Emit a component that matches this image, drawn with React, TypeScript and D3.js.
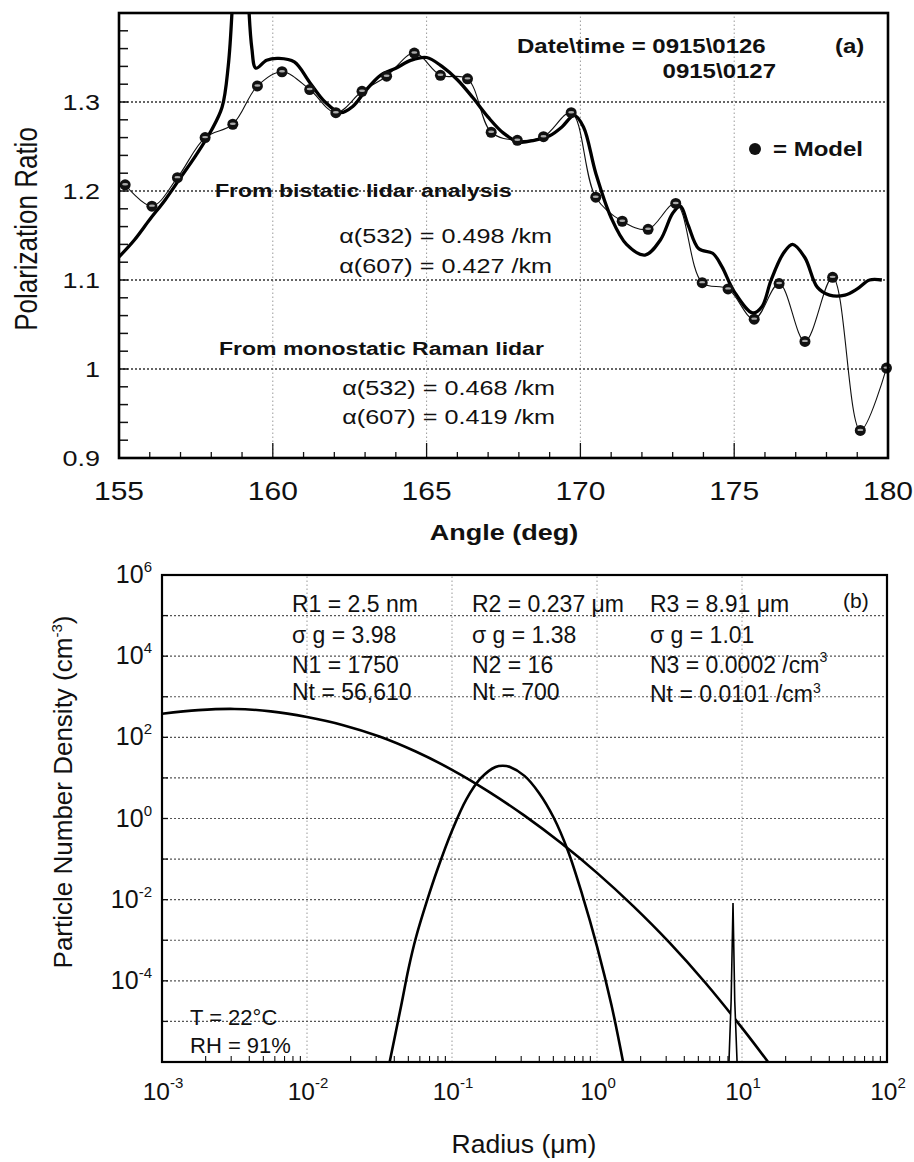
import React from "react";
import * as d3 from "d3";

// ---------- Panel (a) data ----------
const modelAngle = [155.2, 156.07, 156.9, 157.8, 158.7, 159.5, 160.3, 161.2, 162.05, 162.9, 163.7, 164.6, 165.45, 166.33, 167.1, 167.95, 168.8, 169.7, 170.5, 171.36, 172.2, 173.1, 173.96, 174.8, 175.65, 176.46, 177.3, 178.2, 179.1, 179.95];
const modelRatio = [1.207, 1.183, 1.215, 1.26, 1.275, 1.318, 1.334, 1.314, 1.288, 1.312, 1.329, 1.355, 1.33, 1.326, 1.266, 1.257, 1.261, 1.288, 1.193, 1.166, 1.157, 1.186, 1.097, 1.09, 1.056, 1.096, 1.031, 1.103, 0.931, 1.001];

const measAngle = [155.0, 155.5, 156.0, 156.5, 157.0, 157.5, 158.0, 158.35, 158.55, 158.7, 158.85, 159.05, 159.2, 159.32, 159.45, 159.8, 160.2, 160.7, 161.2, 161.7, 162.2, 162.6, 163.0, 163.5, 164.0, 164.5, 165.0, 165.5, 166.0, 166.5, 167.0, 167.5, 168.0, 168.5, 169.0, 169.4, 169.8, 170.1, 170.5, 171.0, 171.5, 172.1, 172.6, 173.0, 173.25, 173.5, 173.85, 174.3, 174.6, 175.0, 175.6, 175.9, 176.2, 176.6, 176.9, 177.3, 177.7, 178.1, 178.6, 179.0, 179.4, 179.8];
const measRatio = [1.126, 1.145, 1.168, 1.19, 1.215, 1.24, 1.268, 1.294, 1.34, 1.42, 1.6, 1.6, 1.42, 1.36, 1.338, 1.347, 1.349, 1.345, 1.322, 1.3, 1.288, 1.295, 1.312, 1.33, 1.338, 1.347, 1.35, 1.34, 1.325, 1.305, 1.283, 1.265, 1.255, 1.257, 1.262, 1.272, 1.285, 1.272, 1.22, 1.17, 1.14, 1.128, 1.145, 1.175, 1.183, 1.162, 1.135, 1.13, 1.115, 1.087, 1.063, 1.07, 1.1, 1.13, 1.14, 1.125, 1.092, 1.083, 1.083, 1.09, 1.1, 1.1];

const topXTicks = [155, 160, 165, 170, 175, 180];
const topYTicks = [0.9, 1, 1.1, 1.2, 1.3];

// ---------- Panel (b) data (log10 radius µm, log10 density cm^-3) ----------
const mode1LogR = [-3.0, -2.75, -2.5, -2.25, -2.0, -1.75, -1.5, -1.25, -1.0, -0.75, -0.5, -0.25, 0.0, 0.25, 0.5, 0.75, 1.0, 1.18];
const mode1LogN = [2.58, 2.67, 2.7, 2.64, 2.5, 2.3, 2.02, 1.65, 1.2, 0.67, 0.07, -0.6, -1.34, -2.16, -3.06, -4.06, -5.16, -6.0];

const mode2LogR = [-1.43, -1.35, -1.3, -1.25, -1.17, -1.1, -1.0, -0.9, -0.8, -0.7, -0.65, -0.6, -0.5, -0.4, -0.3, -0.2, -0.1, 0.0, 0.1, 0.18];
const mode2LogN = [-6.0, -4.6, -3.7, -2.95, -2.0, -1.25, -0.3, 0.48, 1.0, 1.27, 1.3, 1.27, 1.05, 0.63, 0.03, -0.8, -1.9, -3.15, -4.6, -6.0];

const mode3LogR = [0.91, 0.925, 0.938, 0.95, 0.966];
const mode3LogN = [-6.0, -4.5, -2.08, -4.5, -6.0];

const botXExp = [-3, -2, -1, 0, 1, 2];
const botYExp = [-4, -2, 0, 2, 4, 6];

const FONT = "'Liberation Sans', Arial, sans-serif";
const SX_TOP = 1.2;

function T(props: any) {
  const { x, y, sx = 1, anchor = "start", size, weight = "normal", rotate = false, children } = props;
  return (
    <text
      transform={`translate(${x},${y}) scale(${sx},1)${rotate ? " rotate(-90)" : ""}`}
      textAnchor={anchor}
      fontSize={size}
      fontWeight={weight}
      fontFamily={FONT}
      fill="#111"
    >
      {children}
    </text>
  );
}

export default function App() {
  // Panel (a) scales
  const xA = d3.scaleLinear().domain([155, 180]).range([119, 888]);
  const yA = d3.scaleLinear().domain([0.9, 1.4]).range([458, 13]);
  // Panel (b) scales
  const xR = d3.scaleLog().domain([1e-3, 1e2]).range([162, 887]);
  const yN = d3.scaleLog().domain([1e-6, 1e6]).range([1062, 575]);

  const measLine = d3
    .line<number>()
    .x((_, i) => xA(measAngle[i]))
    .y((d) => yA(d))
    .curve(d3.curveCatmullRom.alpha(0.5));
  const modelLine = d3
    .line<number>()
    .x((_, i) => xA(modelAngle[i]))
    .y((d) => yA(d))
    .curve(d3.curveCatmullRom.alpha(0.5));

  const logLine = (lr: number[]) =>
    d3
      .line<number>()
      .x((_, i) => xR(Math.pow(10, lr[i])))
      .y((d) => yN(Math.pow(10, d)))
      .curve(d3.curveCatmullRom.alpha(0.5));

  const [ax0, ax1] = xA.range();
  const [ay0, ay1] = [yA(0.9), yA(1.4)];
  const [bx0, bx1] = xR.range();
  const [by0, by1] = [yN(1e-6), yN(1e6)];

  const yMinor = d3.range(0.92, 1.399, 0.02);
  const xMinor = d3.range(156, 180, 1);
  const bxMinor: number[] = [];
  for (let e = -3; e < 2; e++) for (let m = 2; m <= 9; m++) bxMinor.push(m * Math.pow(10, e));
  const byDec = d3.range(-5, 6);

  const fmt = d3.format("~g");

  return (
    <svg
      width={914}
      height={1162}
      style={{ position: "absolute", left: 0, top: 0, display: "block", background: "#fff" }}
    >
      <defs>
        <clipPath id="clipA">
          <rect x={ax0} y={ay1} width={ax1 - ax0} height={ay0 - ay1} />
        </clipPath>
        <clipPath id="clipB">
          <rect x={bx0} y={by1} width={bx1 - bx0} height={by0 - by1} />
        </clipPath>
      </defs>

      {/* ===== Panel (a) ===== */}
      {topXTicks.slice(1, -1).map((t) => (
        <line key={"gx" + t} x1={xA(t)} x2={xA(t)} y1={ay0} y2={ay1} stroke="#9a9a9a" strokeWidth={1} strokeDasharray="1.5,2.5" />
      ))}
      {topYTicks.slice(1).map((t) => (
        <line key={"gy" + t} x1={ax0} x2={ax1} y1={yA(t)} y2={yA(t)} stroke="#333" strokeWidth={1.3} strokeDasharray="2,2" />
      ))}
      {yMinor.map((t) => (
        <line key={"ym" + t} x1={ax0} x2={ax0 + 9} y1={yA(t)} y2={yA(t)} stroke="#111" strokeWidth={1.5} />
      ))}
      {xMinor.map((t) => (
        <line key={"xm" + t} x1={xA(t)} x2={xA(t)} y1={ay0} y2={ay0 - (t % 5 === 0 ? 15 : 6)} stroke="#111" strokeWidth={1.3} />
      ))}

      <g clipPath="url(#clipA)">
        <path d={modelLine(modelRatio) || ""} fill="none" stroke="#111" strokeWidth={1.1} />
        <path d={measLine(measRatio) || ""} fill="none" stroke="#000" strokeWidth={3.3} strokeLinejoin="round" />
      </g>
      {modelRatio.map((v, i) => (
        <g key={"dot" + i}>
          <circle cx={xA(modelAngle[i])} cy={yA(v)} r={5.5} fill="#111" />
          <ellipse cx={xA(modelAngle[i])} cy={yA(v) - 0.5} rx={3} ry={1.2} fill="#aaa" />
        </g>
      ))}
      <rect x={ax0} y={ay1} width={ax1 - ax0} height={ay0 - ay1} fill="none" stroke="#000" strokeWidth={2.6} />

      {topYTicks.map((t) => (
        <T key={"yl" + t} x={100} y={yA(t) + 8} sx={SX_TOP} anchor="end" size={22.5}>
          {fmt(t)}
        </T>
      ))}
      {topXTicks.map((t) => (
        <T key={"xl" + t} x={xA(t)} y={500} sx={SX_TOP} anchor="middle" size={25}>
          {t}
        </T>
      ))}
      <T x={504} y={540} sx={SX_TOP} anchor="middle" size={22.5} weight="bold">
        Angle (deg)
      </T>
      <T x={37} y={229} sx={SX_TOP} anchor="middle" size={26} rotate>
        Polarization Ratio
      </T>

      <T x={517} y={53} sx={SX_TOP} size={20} weight="bold">
        Date\time = 0915\0126
      </T>
      <T x={776} y={78} sx={SX_TOP} anchor="end" size={20} weight="bold">
        0915\0127
      </T>
      <T x={835} y={53} sx={SX_TOP} size={20} weight="bold">
        (a)
      </T>
      <circle cx={755} cy={149} r={6} fill="#111" />
      <T x={773} y={156} sx={SX_TOP} size={20} weight="bold">
        = Model
      </T>
      <T x={215} y={197} sx={SX_TOP} size={19.2} weight="bold">
        From bistatic lidar analysis
      </T>
      <T x={552} y={243} sx={SX_TOP} anchor="end" size={21}>
        α(532) = 0.498 /km
      </T>
      <T x={552} y={273} sx={SX_TOP} anchor="end" size={21}>
        α(607) = 0.427 /km
      </T>
      <T x={219} y={355} sx={SX_TOP} size={19.2} weight="bold">
        From monostatic Raman lidar
      </T>
      <T x={555} y={395} sx={SX_TOP} anchor="end" size={21}>
        α(532) = 0.468 /km
      </T>
      <T x={555} y={424} sx={SX_TOP} anchor="end" size={21}>
        α(607) = 0.419 /km
      </T>

      {/* ===== Panel (b) ===== */}
      {botXExp.slice(1, -1).map((e) => (
        <line key={"bgx" + e} x1={xR(Math.pow(10, e))} x2={xR(Math.pow(10, e))} y1={by0} y2={by1} stroke="#999" strokeWidth={1} strokeDasharray="1.5,2.5" />
      ))}
      {byDec.map((e) => (
        <line key={"bgy" + e} x1={bx0} x2={bx1} y1={yN(Math.pow(10, e))} y2={yN(Math.pow(10, e))} stroke="#555" strokeWidth={1.2} strokeDasharray="2,2" />
      ))}
      {byDec.map((e) => (
        <line key={"byt" + e} x1={bx0} x2={bx0 + 6} y1={yN(Math.pow(10, e))} y2={yN(Math.pow(10, e))} stroke="#111" strokeWidth={1.3} />
      ))}
      {bxMinor.map((v, i) => (
        <line key={"bxm" + i} x1={xR(v)} x2={xR(v)} y1={by0} y2={by0 - 6} stroke="#111" strokeWidth={1.1} />
      ))}

      <g clipPath="url(#clipB)">
        <path d={logLine(mode1LogR)(mode1LogN) || ""} fill="none" stroke="#000" strokeWidth={2.6} />
        <path d={logLine(mode2LogR)(mode2LogN) || ""} fill="none" stroke="#000" strokeWidth={2.6} />
        <path d={d3.line<number>().x((_, i) => xR(Math.pow(10, mode3LogR[i]))).y((d) => yN(Math.pow(10, d)))(mode3LogN) || ""} fill="#fff" stroke="#000" strokeWidth={1.6} strokeLinejoin="miter" />
      </g>
      <rect x={bx0} y={by1} width={bx1 - bx0} height={by0 - by1} fill="none" stroke="#000" strokeWidth={2.2} />

      {botYExp.map((e) => (
        <text key={"byl" + e} x={152} y={yN(Math.pow(10, e)) + 8} textAnchor="end" fontSize={25} fontFamily={FONT} fill="#111">
          10
          <tspan dy={-11} fontSize={15}>
            {e}
          </tspan>
        </text>
      ))}
      {botXExp.map((e) => (
        <text key={"bxl" + e} x={xR(Math.pow(10, e)) + 1} y={1100} textAnchor="middle" fontSize={24.5} fontFamily={FONT} fill="#111">
          10
          <tspan dy={-12} fontSize={15}>
            {e}
          </tspan>
        </text>
      ))}
      <text x={524} y={1153} textAnchor="middle" fontSize={26.5} fontFamily={FONT} fill="#111">
        Radius (μm)
      </text>
      <text transform="translate(72,792) rotate(-90)" textAnchor="middle" fontSize={26} fontFamily={FONT} fill="#111">
        Particle Number Density (cm
        <tspan dy={-10} fontSize={15}>
          -3
        </tspan>
        <tspan dy={10}>)</tspan>
      </text>

      <g fontFamily={FONT} fontSize={23} fill="#111">
        <text x={292} y={612}>R1 = 2.5 nm</text>
        <text x={292} y={643}>σ g = 3.98</text>
        <text x={292} y={673}>N1 = 1750</text>
        <text x={292} y={700}>Nt = 56,610</text>

        <text x={472} y={612}>R2 = 0.237 μm</text>
        <text x={472} y={643}>σ g = 1.38</text>
        <text x={472} y={673}>N2 = 16</text>
        <text x={472} y={700}>Nt = 700</text>

        <text x={650} y={612}>R3 = 8.91 μm</text>
        <text x={650} y={643}>σ g = 1.01</text>
        <text x={650} y={673}>
          N3 = 0.0002 /cm<tspan dy={-11} fontSize={14}>3</tspan>
        </text>
        <text x={650} y={702}>
          Nt = 0.0101 /cm<tspan dy={-9} fontSize={14}>3</tspan>
        </text>

        <text x={843} y={608} fontSize={21}>(b)</text>
        <text x={190} y={1025} fontSize={22}>T = 22°C</text>
        <text x={190} y={1053} fontSize={22}>RH = 91%</text>
      </g>
    </svg>
  );
}
